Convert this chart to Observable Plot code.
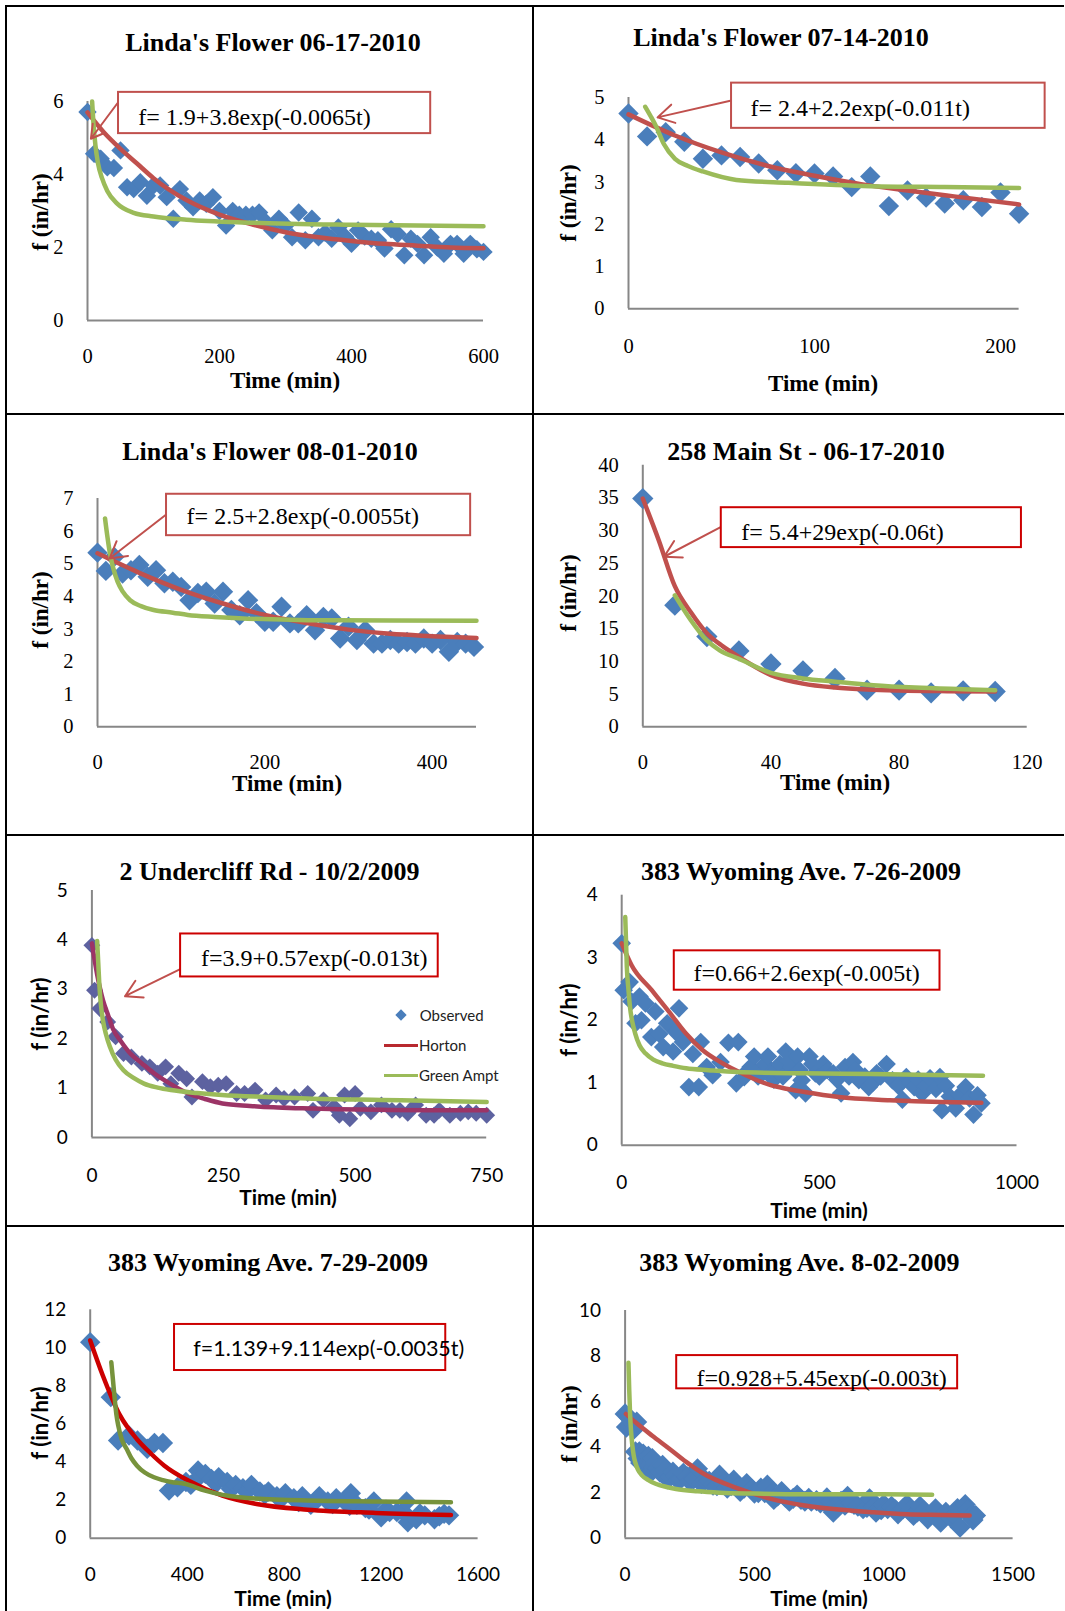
<!DOCTYPE html>
<html>
<head>
<meta charset="utf-8">
<script src="https://cdn.jsdelivr.net/npm/d3@7"></script>
<script src="https://cdn.jsdelivr.net/npm/@observablehq/plot@0.6"></script>
<style>
  html,body{margin:0;padding:0;background:#fff;}
  #page{position:relative;width:1065px;height:1611px;overflow:hidden;background:#fff;}
  .rule{position:absolute;background:#000;}
  .plotbox{position:absolute;}
  .plotbox svg{overflow:visible;display:block;}
  .lbl{position:absolute;white-space:nowrap;line-height:1;color:#000;transform:translate(-50%,-50%);}
  .serifB{font-family:"Liberation Serif","Times New Roman",serif;font-weight:bold;}
  .sansB{font-family:Lato,"Open Sans",sans-serif;font-weight:bold;}
  .ylab{transform:translate(-50%,-50%) rotate(-90deg);}
  .leg{position:absolute;white-space:nowrap;line-height:1;color:#222;font-family:Lato,"Open Sans",sans-serif;font-size:15px;transform:translate(0,-50%);}
</style>
</head>
<body>
<div id="page"></div>
<script>
// ---------------- DATA ----------------
const titles = [
  "Linda's Flower 06-17-2010",
  "Linda's Flower 07-14-2010",
  "Linda's Flower 08-01-2010",
  "258 Main St - 06-17-2010",
  "2 Undercliff Rd - 10/2/2009",
  "383 Wyoming Ave. 7-26-2009",
  "383 Wyoming Ave. 7-29-2009",
  "383 Wyoming Ave. 8-02-2009"
];
const equations = [
  "f= 1.9+3.8exp(-0.0065t)",
  "f= 2.4+2.2exp(-0.011t)",
  "f= 2.5+2.8exp(-0.0055t)",
  "f= 5.4+29exp(-0.06t)",
  "f=3.9+0.57exp(-0.013t)",
  "f=0.66+2.6exp(-0.005t)",
  "f=1.139+9.114exp(-0.0035t)",
  "f=0.928+5.45exp(-0.003t)"
];
const xLabel = "Time (min)";
const yLabel = "f (in/hr)";
const legendLabels = ["Observed", "Horton", "Green Ampt"];

const xTicks = [[0,200,400,600],[0,100,200],[0,200,400],[0,40,80,120],[0,250,500,750],[0,500,1000],[0,400,800,1200,1600],[0,500,1000,1500]];
const yTicks = [[0,2,4,6],[0,1,2,3,4,5],[0,1,2,3,4,5,6,7],[0,5,10,15,20,25,30,35,40],[0,1,2,3,4,5],[0,1,2,3,4],[0,2,4,6,8,10,12],[0,2,4,6,8,10]];
const xDomains = [[0,600],[0,210],[0,453],[0,120],[0,750],[0,1000],[0,1600],[0,1500]];
const yDomains = [[0,6],[0,5],[0,7],[0,40],[0,5],[0,4],[0,12],[0,10]];

// Panel 1
const p1Observed = [[0,5.71],[10,4.57],[20,4.43],[30,4.2],[40,4.18],[50,4.66],[60,3.65],[70,3.6],[80,3.79],[90,3.42],[100,3.7],[110,3.7],[120,3.38],[130,2.79],[140,3.6],[150,3.29],[160,3.1],[170,3.29],[180,3.2],[190,3.38],[200,3.0],[210,2.6],[220,3.0],[230,2.9],[240,2.9],[250,2.9],[260,2.96],[270,2.7],[280,2.47],[290,2.79],[300,2.6],[310,2.28],[320,2.96],[330,2.2],[340,2.79],[350,2.28],[360,2.4],[370,2.24],[380,2.55],[390,2.3],[400,2.1],[410,2.47],[420,2.3],[430,2.24],[440,2.2],[450,1.97],[460,2.5],[470,2.37],[480,1.79],[490,2.24],[500,2.1],[510,1.79],[520,2.28],[530,2.0],[540,1.83],[550,2.1],[560,2.1],[570,1.83],[580,2.1],[590,1.95],[600,1.88]];
const p1Horton = [[0,5.7],[25,5.15],[50,4.7],[75,4.3],[100,3.9],[150,3.3],[200,2.9],[250,2.63],[300,2.42],[350,2.28],[400,2.18],[450,2.1],[500,2.05],[550,2.0],[600,1.98]];
const p1GreenAmpt = [[7,6.0],[9,5.4],[12,4.8],[16,4.3],[22,3.9],[30,3.55],[45,3.2],[70,2.95],[100,2.85],[150,2.76],[250,2.68],[400,2.62],[600,2.58]];

// Panel 2
const p2Observed = [[0,4.62],[10,4.08],[20,4.18],[30,3.95],[40,3.55],[50,3.63],[60,3.59],[70,3.44],[80,3.28],[90,3.21],[100,3.2],[110,3.13],[120,2.88],[130,3.13],[140,2.43],[150,2.8],[160,2.63],[170,2.49],[180,2.57],[190,2.41],[200,2.75],[210,2.25]];
const p2Horton = [[0,4.6],[25,4.1],[50,3.7],[75,3.38],[100,3.15],[125,2.95],[150,2.8],[175,2.66],[210,2.47]];
const p2GreenAmpt = [[9,4.78],[12,4.55],[15,4.3],[19,3.9],[25,3.55],[32,3.38],[40,3.25],[58,3.05],[86,2.98],[130,2.9],[170,2.88],[210,2.86]];

// Panel 3
const p3Observed = [[0,5.34],[10,4.78],[20,5.21],[30,4.7],[40,4.8],[50,4.96],[60,4.6],[70,4.8],[80,4.4],[90,4.45],[100,4.29],[110,3.88],[120,4.1],[130,4.14],[140,3.78],[150,4.14],[160,3.58],[170,3.42],[180,3.88],[190,3.48],[200,3.22],[210,3.22],[220,3.68],[230,3.17],[240,3.17],[250,3.42],[260,2.96],[270,3.37],[280,3.32],[290,2.71],[300,3.07],[310,2.66],[320,2.96],[330,2.55],[340,2.55],[350,2.66],[360,2.55],[370,2.6],[380,2.55],[390,2.71],[400,2.55],[410,2.66],[420,2.3],[430,2.6],[440,2.55],[450,2.45]];
const p3Horton = [[0,5.32],[50,4.72],[100,4.2],[150,3.78],[200,3.43],[250,3.18],[300,2.98],[350,2.85],[400,2.78],[453,2.72]];
const p3GreenAmpt = [[9,6.39],[12,5.8],[15,5.3],[19,4.85],[24,4.45],[30,4.15],[39,3.88],[52,3.7],[67,3.58],[90,3.5],[108,3.43],[140,3.37],[169,3.33],[251,3.27],[350,3.26],[453,3.25]];

// Panel 4
const p4Observed = [[0,34.9],[10,18.6],[20,13.8],[30,11.6],[40,9.6],[50,8.56],[60,7.4],[70,5.6],[80,5.6],[90,5.2],[100,5.5],[110,5.4]];
const p4Horton = [[0,34.9],[5,28.5],[10,21.5],[15,17.5],[20,14.3],[25,12.3],[30,10.7],[40,7.9],[50,6.6],[60,6.0],[70,5.7],[80,5.55],[95,5.45],[110,5.4]];
const p4GreenAmpt = [[10,20.1],[15,16.3],[20,13.2],[24,11.7],[30,10.4],[40,8.25],[50,7.4],[60,6.9],[72,6.36],[85,6.0],[100,5.75],[110,5.6]];

// Panel 5
const p5Observed = [[0,3.89],[5,2.98],[15,2.61],[30,2.34],[45,2.04],[60,1.7],[75,1.63],[95,1.5],[110,1.43],[125,1.3],[140,1.43],[150,1.09],[165,1.3],[180,1.19],[190,0.82],[210,1.13],[225,1.03],[240,1.06],[255,1.09],[275,0.89],[290,0.89],[310,0.96],[330,0.76],[350,0.86],[365,0.79],[385,0.82],[410,0.89],[420,0.55],[440,0.76],[460,0.62],[470,0.45],[480,0.86],[490,0.38],[500,0.89],[510,0.59],[530,0.52],[550,0.66],[570,0.55],[585,0.55],[600,0.49],[615,0.66],[635,0.45],[650,0.45],[660,0.55],[680,0.45],[700,0.49],[715,0.52],[730,0.49],[750,0.45]];
const p5Horton = [[0,3.93],[10,3.3],[21,2.78],[30,2.5],[40,2.2],[55,1.95],[73,1.7],[95,1.5],[118,1.3],[150,1.08],[183,0.89],[215,0.78],[248,0.69],[300,0.64],[345,0.61],[400,0.59],[470,0.57],[550,0.56],[650,0.55],[750,0.55]];
const p5GreenAmpt = [[10,3.98],[12,3.55],[14,3.12],[17,2.7],[21,2.37],[27,2.08],[34,1.84],[45,1.58],[60,1.36],[80,1.2],[99,1.09],[125,1.01],[150,0.96],[200,0.9],[247,0.86],[330,0.82],[410,0.79],[550,0.76],[750,0.72]];

// Panel 6
const p6Observed = [[0,3.23],[5,2.48],[20,2.61],[25,2.3],[35,1.95],[45,2.38],[50,2.0],[60,2.27],[75,1.73],[85,2.14],[95,1.78],[105,1.57],[115,1.95],[130,1.5],[137,1.81],[145,2.19],[155,1.65],[170,0.93],[180,1.46],[195,0.93],[200,1.65],[215,1.25],[230,1.12],[250,1.33],[270,1.64],[290,0.99],[295,1.65],[310,1.09],[320,1.2],[326,1.25],[335,1.42],[345,1.1],[355,1.15],[362,1.3],[370,1.42],[377,1.15],[385,1.05],[392,1.2],[400,1.3],[408,1.1],[415,1.5],[422,1.35],[429,1.25],[440,0.88],[445,1.42],[450,1.2],[455,1.04],[465,0.83],[475,1.42],[482,1.3],[490,1.15],[500,1.1],[510,1.3],[520,1.2],[535,1.15],[545,1.05],[555,0.83],[565,1.25],[575,1.1],[585,1.33],[592,1.2],[600,1.04],[615,1.1],[625,0.93],[635,1.0],[645,1.15],[655,1.1],[670,1.3],[685,1.04],[700,0.95],[710,0.73],[720,1.09],[730,1.0],[740,0.93],[750,1.05],[760,0.83],[770,0.95],[780,1.07],[795,0.9],[805,1.09],[810,0.56],[820,0.95],[830,0.78],[845,0.59],[855,0.8],[870,0.93],[880,0.75],[890,0.49],[900,0.8],[910,0.67]];
const p6Horton = [[0,3.23],[25,2.88],[76,2.48],[119,2.14],[162,1.79],[205,1.52],[250,1.33],[291,1.19],[335,1.06],[377,0.96],[420,0.9],[463,0.85],[549,0.77],[678,0.72],[807,0.69],[910,0.68]];
const p6GreenAmpt = [[9,3.65],[11,3.25],[13,2.85],[17,2.5],[21,2.21],[27,1.97],[34,1.79],[45,1.6],[60,1.47],[80,1.37],[103,1.31],[130,1.27],[163,1.23],[220,1.2],[292,1.17],[464,1.15],[635,1.14],[914,1.11]];

// Panel 7
const p7Observed = [[0,10.3],[85,7.41],[115,5.13],[160,5.4],[195,5.13],[235,4.7],[265,5.0],[300,5.0],[325,2.5],[360,2.68],[395,2.95],[415,2.8],[445,3.56],[455,3.3],[475,3.38],[500,3.11],[520,2.9],[530,3.2],[565,2.95],[580,2.6],[600,2.8],[630,2.63],[650,2.5],[665,2.8],[700,2.45],[720,2.3],[735,2.45],[770,2.2],[790,2.1],[805,2.36],[840,2.1],[860,1.9],[875,2.2],[910,1.76],[930,1.95],[945,2.2],[980,1.93],[1000,1.8],[1015,2.1],[1050,1.93],[1070,1.7],[1075,2.36],[1100,1.76],[1135,1.58],[1150,1.5],[1170,1.93],[1200,1.1],[1220,1.5],[1235,1.37],[1265,1.37],[1290,1.4],[1305,1.93],[1310,0.84],[1345,1.0],[1360,1.3],[1380,1.2],[1420,1.0],[1440,1.15],[1460,1.28],[1480,1.2]];
const p7Horton = [[0,10.39],[52,8.55],[123,6.45],[193,5.2],[250,4.45],[306,3.81],[404,3.03],[545,2.24],[686,1.8],[897,1.5],[1178,1.33],[1488,1.22]];
const p7GreenAmpt = [[87,9.25],[94,8.3],[101,7.33],[108,6.5],[116,5.9],[130,5.2],[150,4.7],[170,4.2],[193,3.81],[225,3.45],[263,3.2],[300,3.05],[334,2.95],[390,2.86],[474,2.5],[615,2.15],[896,1.98],[1178,1.93],[1488,1.89]];

// Panel 8
const p8Observed = [[0,5.46],[5,4.88],[15,5.3],[25,5.1],[35,4.8],[40,3.8],[45,5.1],[50,3.5],[55,3.8],[60,3.3],[65,3.63],[70,3.7],[75,3.4],[80,3.3],[85,3.05],[90,3.6],[95,3.2],[100,2.9],[105,3.5],[110,3.1],[115,3.3],[125,3.05],[135,2.9],[145,3.2],[155,3.0],[165,2.6],[175,2.7],[185,2.9],[195,2.75],[205,2.55],[215,2.6],[225,2.85],[240,2.7],[250,2.5],[265,2.6],[280,3.05],[295,2.4],[310,2.55],[325,2.5],[340,2.33],[355,2.3],[365,2.77],[380,2.4],[395,2.2],[410,2.3],[420,2.55],[435,2.25],[445,2.05],[460,2.2],[470,2.4],[490,2.15],[500,1.98],[515,2.0],[525,2.2],[540,2.0],[550,2.33],[565,1.95],[575,1.7],[590,1.85],[605,2.05],[620,1.8],[635,1.62],[650,1.75],[665,1.9],[680,1.7],[695,1.62],[710,1.75],[720,1.62],[740,1.65],[755,1.55],[770,1.6],[780,1.77],[795,1.6],[805,1.14],[820,1.5],[835,1.62],[850,1.45],[860,1.84],[875,1.55],[885,1.48],[900,1.4],[920,1.29],[935,1.35],[945,1.73],[960,1.4],[970,1.14],[990,1.25],[1000,1.48],[1015,1.3],[1030,1.4],[1045,1.25],[1055,1.07],[1075,1.3],[1090,1.48],[1100,1.2],[1115,1.0],[1130,1.15],[1140,1.4],[1155,1.2],[1170,0.85],[1185,1.05],[1200,1.29],[1210,1.1],[1220,0.7],[1240,1.14],[1260,0.9],[1275,1.0],[1285,1.3],[1295,0.48],[1315,1.48],[1325,1.25],[1335,0.96],[1345,0.8],[1355,1.0]];
const p8Horton = [[3,5.46],[39,5.1],[105,4.5],[171,3.93],[236,3.35],[302,2.84],[433,2.2],[564,1.73],[695,1.44],[826,1.26],[958,1.14],[1089,1.05],[1220,1.02],[1332,1.0]];
const p8GreenAmpt = [[13,7.7],[16,6.5],[19,5.54],[23,4.7],[28,4.07],[33,3.65],[39,3.34],[50,3.0],[65,2.76],[90,2.55],[118,2.39],[160,2.25],[197,2.16],[280,2.06],[367,2.0],[500,1.96],[695,1.93],[958,1.93],[1187,1.91]];

const observed = [p1Observed,p2Observed,p3Observed,p4Observed,p5Observed,p6Observed,p7Observed,p8Observed];
const horton = [p1Horton,p2Horton,p3Horton,p4Horton,p5Horton,p6Horton,p7Horton,p8Horton];
const greenAmpt = [p1GreenAmpt,p2GreenAmpt,p3GreenAmpt,p4GreenAmpt,p5GreenAmpt,p6GreenAmpt,p7GreenAmpt,p8GreenAmpt];

// ---------------- LAYOUT / STYLE ----------------
const SERIF = '"Liberation Serif", "Times New Roman", serif';
const SANS = 'Lato, "Open Sans", sans-serif';
const AXIS = "#878787";

const layout = [
 {cell:[0,0,533,414], margin:[101,50,94,87], tick:["serif",20.5], xPad:27.6, r:8.3, dot:"#4A7EBB", red:"#C0504D", green:"#9BBB59", box:"#C0504D", eq:["serif",24], title:[273,43], ylab:[40,212,"serif",23], xlab:[285,380,"serif",23]},
 {cell:[533,0,532,414], margin:[97,46.4,105.7,95], tick:["serif",20.5], xPad:29.6, r:9.2, dot:"#4A7EBB", red:"#C0504D", green:"#9BBB59", box:"#C0504D", eq:["serif",24], title:[781,38], ylab:[568,203,"serif",23], xlab:[823,383,"serif",23]},
 {cell:[0,414,533,421], margin:[84,57,108.7,97], tick:["serif",20.5], xPad:27.6, r:9.2, dot:"#4A7EBB", red:"#C0504D", green:"#9BBB59", box:"#C0504D", eq:["serif",24], title:[270,451.5], ylab:[40,610,"serif",23], xlab:[287,783,"serif",23]},
 {cell:[533,414,532,421], margin:[50.7,38.3,108.7,109.3], tick:["serif",20.5], xPad:27.6, r:9.6, dot:"#4A7EBB", red:"#C0504D", green:"#9BBB59", box:"#CC0000", eq:["serif",24], title:[806,451.5], ylab:[568,593,"serif",23], xlab:[835,782,"serif",23]},
 {cell:[0,835,533,391], margin:[55,46.8,89,91.4], tick:["sans",19], xPad:30.9, r:7.6, dot:"#5D62A0", red:"#9C3466", green:"#9BBB59", box:"#CC0000", eq:["serif",24], title:[269.5,871.5], ylab:[40,1013.5,"sans",22], xlab:[288,1196,"sans",21]},
 {cell:[533,835,532,391], margin:[59.7,48.5,81.3,88.2], tick:["sans",19], xPad:29.8, r:8.4, dot:"#4A7EBB", red:"#C0504D", green:"#9BBB59", box:"#CC0000", eq:["serif",24], title:[801,871.5], ylab:[568.6,1019.7,"sans",22], xlab:[819,1208.5,"sans",21]},
 {cell:[0,1226,533,385], margin:[83.3,55.4,73.3,89.7], tick:["sans",19], xPad:29.5, r:9.2, dot:"#4A7EBB", red:"#CC0000", green:"#77933C", box:"#CC0000", eq:["sans",21.5], title:[268,1263.3], ylab:[40,1423.3,"sans",22], xlab:[283,1597,"sans",21]},
 {cell:[533,1226,532,385], margin:[84,52.4,73.3,91.6], tick:["sans",19], xPad:29.5, r:9.5, dot:"#4A7EBB", red:"#C0504D", green:"#9BBB59", box:"#CC0000", eq:["serif",24], title:[799.4,1263.3], ylab:[569,1424,"serif",23], xlab:[819,1597,"sans",21]}
];

// annotation placement, in each panel's data units
const notes = [
 {box:[47,520,6.25,5.12], text:[77,5.56], arrow:[46.5,5.98,5.2,4.98]},
 {box:[55.4,224,5.34,4.27], text:[65.6,4.75], arrow:[56.5,4.94,15.6,4.53]},
 {box:[82.5,446,7.13,5.86], text:[106.5,6.44], arrow:[83.7,6.54,14.4,5.16]},
 {box:[24.5,118.2,33.5,27.4], text:[30.75,29.8], arrow:[24.6,30.6,6.66,26]},
 {box:[168.5,657.9,4.12,3.25], text:[207.4,3.62], arrow:[169.8,3.42,62.9,2.86]},
 {box:[133,805.2,3.11,2.48], text:[181.6,2.75], arrow:null},
 {box:[347.8,1466.6,11.23,8.81], text:[425.3,9.95], arrow:null},
 {box:[199.5,1285.6,8.02,6.56], text:[275.6,7.0], arrow:null}
];

const page = document.getElementById("page");
const fam = k => k === "serif" ? SERIF : SANS;

function addDiv(cls, text, x, y, extra) {
  const d = document.createElement("div");
  d.className = cls;
  if (text != null) d.textContent = text;
  d.style.left = x + "px";
  d.style.top = y + "px";
  Object.assign(d.style, extra || {});
  page.appendChild(d);
  return d;
}

// panel borders
[[5,5,1059,2],[5,413,1059,2],[5,834,1059,2],[5,1225,1059,2]].forEach(([x,y,w,h]) => addDiv("rule", null, x, y, {width:w+"px", height:h+"px"}));
[[5,5,2,1606],[532,5,2,1606]].forEach(([x,y,w,h]) => addDiv("rule", null, x, y, {width:w+"px", height:h+"px"}));

for (let i = 0; i < 8; i++) {
  const L = layout[i], N = notes[i];
  const [cl, ct, cw, ch] = L.cell;
  const tf = fam(L.tick[0]);
  const marks = [
    Plot.ruleY([0], {stroke: AXIS, strokeWidth: 2}),
    Plot.ruleX([0], {stroke: AXIS, strokeWidth: 2}),
    Plot.axisX({ticks: xTicks[i], tickSize: 0, tickPadding: L.xPad, tickFormat: d => String(d), fontSize: L.tick[1], fontFamily: tf, fill: "#000", label: null}),
    Plot.axisY({ticks: yTicks[i], tickSize: 0, tickPadding: 24, tickFormat: d => String(d), fontSize: L.tick[1], fontFamily: tf, fill: "#000", label: null}),
    Plot.dot(observed[i], {x: d => d[0], y: d => d[1], symbol: "diamond2", r: L.r, fill: L.dot}),
    Plot.line(horton[i], {x: d => d[0], y: d => d[1], stroke: L.red, strokeWidth: 4.5, curve: "monotone-x"}),
    Plot.line(greenAmpt[i], {x: d => d[0], y: d => d[1], stroke: L.green, strokeWidth: 4.5, curve: "monotone-x"})
  ];
  if (N.arrow) {
    marks.push(Plot.arrow([N.arrow], {x1: d => d[0], y1: d => d[1], x2: d => d[2], y2: d => d[3], stroke: "#C0504D", strokeWidth: 2, headLength: 14}));
  }
  marks.push(Plot.rect([N.box], {x1: d => d[0], x2: d => d[1], y1: d => d[2], y2: d => d[3], fill: "#fff", stroke: L.box, strokeWidth: 2}));
  marks.push(Plot.text([equations[i]], {x: () => N.text[0], y: () => N.text[1], text: d => d, textAnchor: "start", lineAnchor: "middle", fontSize: L.eq[1], fontFamily: fam(L.eq[0]), fill: "#000"}));

  const svg = Plot.plot({
    width: cw, height: ch,
    marginTop: L.margin[0], marginRight: L.margin[1], marginBottom: L.margin[2], marginLeft: L.margin[3],
    x: {domain: xDomains[i]},
    y: {domain: yDomains[i]},
    style: {background: "transparent", overflow: "visible", color: "#000"},
    marks
  });
  const box = addDiv("plotbox", null, cl, ct, {width: cw + "px", height: ch + "px"});
  box.appendChild(svg);

  addDiv("lbl serifB", titles[i], L.title[0], L.title[1], {fontSize: "26px"});
  addDiv("lbl ylab " + (L.ylab[2] === "serif" ? "serifB" : "sansB"), yLabel, L.ylab[0], L.ylab[1], {fontSize: L.ylab[3] + "px"});
  addDiv("lbl " + (L.xlab[2] === "serif" ? "serifB" : "sansB"), xLabel, L.xlab[0], L.xlab[1], {fontSize: L.xlab[3] + "px"});
}

// legend of panel 5
addDiv("rule", null, 397, 1010.7, {width: "8px", height: "8px", background: "#4A7EBB", transform: "rotate(45deg)"});
addDiv("leg", legendLabels[0], 419.7, 1014.7);
addDiv("rule", null, 384, 1044, {width: "34px", height: "3px", background: "#B8292F"});
addDiv("leg", legendLabels[1], 419, 1045.3);
addDiv("rule", null, 384, 1073.5, {width: "34px", height: "3px", background: "#9BBB59"});
addDiv("leg", legendLabels[2], 419, 1074.7);
</script>
</body>
</html>
